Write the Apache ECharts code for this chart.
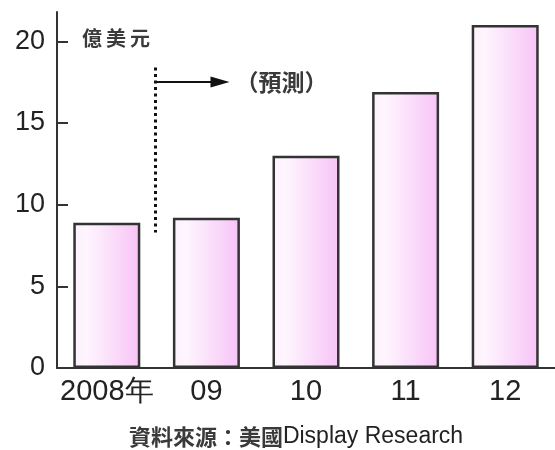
<!DOCTYPE html>
<html>
<head>
<meta charset="utf-8">
<script src="https://cdn.jsdelivr.net/npm/echarts@6/dist/echarts.min.js"></script>
<style>
  html, body { margin: 0; padding: 0; background: #fff; }
  #chart { width: 555px; height: 450px; }
</style>
</head>
<body>
<div id="chart"></div>
<script>
// Display industry revenue, 100 million USD (2009 onward are forecasts)
const categories = ['2008年', '09', '10', '11', '12'];
const revenue = [8.9, 9.2, 13.0, 16.9, 21.0];
const yTicks = [0, 5, 10, 15, 20];
const yMax = 21.8;
// Forecast divider: vertical extent and arrow height, in axis units
const dividerBottom = 8.3;
const dividerTop = 18.4;
const arrowLevel = 17.5;

const latin = '"Liberation Sans", Arial, sans-serif';
const cjk = '"Noto Sans CJK TC", "Noto Sans CJK SC", sans-serif';
const ink = '#222';

const chart = echarts.init(document.getElementById('chart'));

chart.setOption({
  backgroundColor: '#fff',
  animation: false,
  grid: { left: 57, top: 12, bottom: 82, width: 502 },
  xAxis: {
    type: 'category',
    data: categories,
    axisLine: { lineStyle: { color: '#333', width: 2 } },
    axisTick: { show: false },
    axisLabel: {
      interval: 0,
      color: ink,
      fontFamily: latin,
      fontSize: 29,
      margin: 9
    }
  },
  yAxis: {
    type: 'value',
    min: 0,
    max: yMax,
    interval: 5,
    splitLine: { show: false },
    axisLine: { show: true, lineStyle: { color: '#333', width: 2 } },
    axisTick: {
      show: true,
      inside: true,
      length: 11,
      customValues: yTicks,
      lineStyle: { color: '#333', width: 2 }
    },
    axisLabel: {
      color: ink,
      fontFamily: latin,
      fontSize: 27,
      margin: 12,
      customValues: yTicks
    }
  },
  series: [{
    type: 'bar',
    data: revenue,
    barWidth: 67,
    itemStyle: {
      borderColor: '#333',
      borderWidth: 2.5,
      color: new echarts.graphic.LinearGradient(0, 0, 1, 0, [
        { offset: 0, color: '#fdf1fd' },
        { offset: 0.2, color: '#fef5fe' },
        { offset: 1, color: '#f7c3f6' }
      ])
    }
  }]
});

// Annotations placed from axis coordinates
const px = (cat, val) => chart.convertToPixel({ gridIndex: 0 }, [cat, val]);
const c0 = px(0, 0), c1 = px(1, 0);
const divX = Math.round((c0[0] + c1[0]) / 2) - 1.5;
const yTop = px(0, dividerTop)[1];
const yBot = px(0, dividerBottom)[1];
const yArrow = Math.round(px(0, arrowLevel)[1]);
const arrowTip = divX + 74;
const y20 = px(0, 20)[1];

chart.setOption({
  graphic: [
    {
      type: 'line',
      shape: { x1: divX, y1: yTop, x2: divX, y2: yBot },
      style: { stroke: '#111', lineWidth: 3, lineDash: [3, 3.5] }
    },
    {
      type: 'line',
      shape: { x1: divX, y1: yArrow, x2: arrowTip - 14, y2: yArrow },
      style: { stroke: '#111', lineWidth: 2 }
    },
    {
      type: 'polygon',
      shape: { points: [[arrowTip, yArrow], [arrowTip - 19, yArrow - 5.5], [arrowTip - 19, yArrow + 5.5]] },
      style: { fill: '#111' }
    },
    {
      type: 'text',
      x: arrowTip + 6,
      y: yArrow,
      style: {
        text: '（預測）',
        font: 'bold 23px ' + cjk,
        fill: '#3a3a3a',
        textVerticalAlign: 'middle'
      }
    },
    {
      type: 'text',
      x: 82,
      y: y20 - 3,
      style: {
        text: '億\u2009美\u2009元',
        font: 'bold 20px ' + cjk,
        fill: '#3a3a3a',
        textVerticalAlign: 'middle'
      }
    },
    {
      type: 'text',
      x: 296,
      y: 437,
      style: {
        text: '{cn|資料來源：美國}{en|Display Research}',
        textAlign: 'center',
        textVerticalAlign: 'middle',
        rich: {
          cn: { fontFamily: cjk, fontSize: 22, fontWeight: 'bold', fill: '#3a3a3a', color: '#3a3a3a' },
          en: { fontFamily: latin, fontSize: 23, fill: '#222', color: '#222' }
        }
      }
    }
  ]
});
</script>
</body>
</html>
